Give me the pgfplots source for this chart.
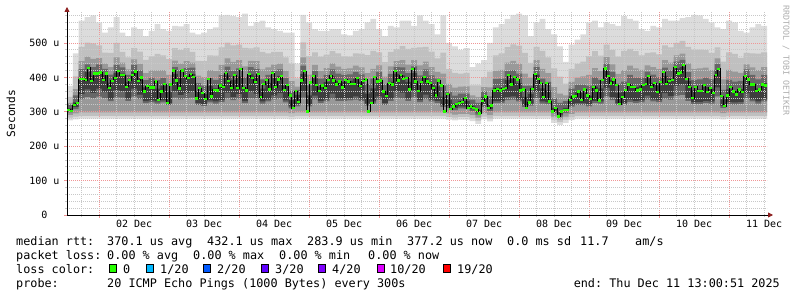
\documentclass[border=0pt]{standalone}
\usepackage{fontspec}
\setmainfont{DejaVu Sans Mono}
\usepackage{pgfplots}
\pgfplotsset{compat=1.18}
\usepackage{pgfplotstable}
\usepgfplotslibrary{fillbetween}
\usetikzlibrary{arrows.meta}
\frenchspacing
\definecolor{lossg}{RGB}{38,255,0}
\definecolor{loss1}{RGB}{0,184,255}
\definecolor{loss2}{RGB}{0,89,255}
\definecolor{loss3}{RGB}{94,0,255}
\definecolor{loss4}{RGB}{126,0,255}
\definecolor{loss10}{RGB}{221,0,255}
\definecolor{loss19}{RGB}{255,0,0}
\definecolor{smA}{RGB}{220,220,220}
\definecolor{smB}{RGB}{192,192,192}
\definecolor{smC}{RGB}{153,153,153}
\definecolor{smD}{RGB}{103,103,103}
\definecolor{smE}{RGB}{62,62,62}
\definecolor{mgrid}{RGB}{240,150,150}
\definecolor{ngrid}{RGB}{200,200,200}
\definecolor{arr}{RGB}{140,30,30}

\pgfplotstableread{
h lo1 lo2 lo3 lo4 lo5 hi5 hi4 hi3 hi2 hi1
0 275 283 291 298 304 310 321 326 343 375
2 278 286 295 308 314 327 348 366 403 470
4 280 288 298 337 351 401 424 447 489 565
6 280 288 298 343 365 415 438 460 501 575
8 280 288 298 339 355 405 430 454 499 580
10 280 288 298 344 367 417 438 456 493 560
12 280 288 298 340 357 407 425 440 472 530
14 280 288 298 331 337 385 408 430 471 545
16 280 288 298 342 363 413 436 458 500 575
18 280 288 298 341 361 411 429 443 474 530
20 280 288 298 332 338 387 407 423 458 520
22 280 288 298 344 367 417 436 452 485 545
24 280 288 298 337 350 400 420 439 475 540
26 280 288 298 325 331 371 392 412 451 520
28 280 288 298 327 333 376 399 420 461 535
30 280 288 298 324 330 367 393 420 468 555
32 280 288 298 327 333 375 398 421 464 540
34 280 288 298 320 326 357 382 407 453 535
36 280 288 298 341 360 410 430 449 485 550
38 280 288 298 336 349 399 420 440 479 548
40 280 288 298 339 355 405 427 447 485 555
42 280 288 298 341 360 410 428 443 474 530
44 280 288 298 320 326 359 383 405 448 525
46 280 288 298 317 323 351 376 401 447 530
48 280 288 298 327 333 375 398 421 464 540
50 280 288 298 324 330 368 393 418 463 545
52 280 288 298 328 334 379 407 436 487 580
54 280 288 298 339 356 406 431 455 501 582
56 280 288 298 334 343 393 419 445 493 578
58 280 288 298 338 352 402 426 450 495 575
60 280 288 298 325 331 371 400 432 486 585
62 280 288 298 340 359 409 430 448 484 550
64 280 288 298 338 353 403 425 447 487 560
66 280 288 298 324 330 367 394 423 474 565
68 280 288 298 330 336 384 407 429 470 545
70 280 288 298 336 348 398 419 437 474 540
72 280 288 298 338 354 404 423 440 474 535
74 280 288 298 327 333 376 398 419 458 530
76 278 286 296 310 316 334 361 389 440 530
78 280 288 298 316 322 349 364 373 397 440
80 280 288 298 341 360 410 434 458 502 582
82 280 288 298 316 322 348 377 408 462 560
84 280 288 298 336 347 397 418 436 473 540
86 280 288 298 326 332 373 396 418 460 535
88 280 288 298 331 337 386 407 427 466 535
90 280 288 298 338 353 403 423 441 476 540
92 280 288 298 332 339 389 411 431 470 540
94 280 288 298 332 338 387 407 425 461 525
96 280 288 298 333 340 390 409 426 460 522
98 280 288 298 335 345 395 415 434 470 535
100 280 288 298 332 338 387 409 429 469 540
102 280 288 298 318 324 353 381 412 465 560
104 280 288 298 324 330 368 396 425 477 570
106 280 288 298 335 345 395 416 435 473 540
108 280 288 298 320 326 357 380 402 444 520
110 280 288 298 332 338 387 410 432 474 550
112 280 288 298 341 360 410 430 447 482 545
114 280 288 298 339 356 406 429 450 491 565
116 280 288 298 332 338 387 412 437 483 565
118 280 288 298 342 362 412 432 450 486 550
120 280 288 298 328 334 378 406 435 487 580
122 280 288 298 337 350 400 423 446 489 565
124 280 288 298 330 336 382 406 430 475 555
126 280 288 298 326 332 374 396 416 455 525
128 280 288 298 314 320 344 376 411 472 580
130 277 285 295 311 317 335 358 381 424 500
132 275 283 292 305 311 324 347 370 413 490
134 277 285 294 310 316 332 353 373 411 480
136 277 285 294 309 315 331 353 374 413 485
138 273 281 290 302 308 318 335 348 377 430
140 265 274 283 292 298 306 326 343 377 440
142 278 286 296 314 320 343 359 372 400 450
144 272 280 290 302 308 320 345 371 417 500
146 280 288 298 325 331 370 395 419 464 545
148 280 288 298 325 331 370 396 422 470 555
150 280 288 298 334 343 393 418 443 488 570
152 280 288 298 335 345 395 421 448 496 582
154 280 288 298 330 336 383 411 440 492 585
156 280 288 298 314 320 343 375 411 471 580
158 280 288 298 318 324 352 376 399 442 520
160 280 288 298 340 358 408 430 450 489 560
162 280 288 298 324 330 368 396 425 477 570
164 280 288 298 322 328 362 387 412 458 540
166 268 277 286 296 302 311 340 372 426 525
168 262 270 278 286 292 299 326 353 402 490
170 268 277 286 296 302 311 331 348 382 445
172 276 284 294 315 321 345 367 387 425 495
174 280 288 298 320 326 357 379 399 439 510
176 280 288 298 319 325 355 379 403 446 525
178 280 288 298 316 322 347 376 407 462 560
180 280 288 298 326 332 373 400 427 476 565
182 280 288 298 324 330 368 393 418 463 545
184 280 288 298 345 370 420 440 459 495 560
186 280 288 298 334 343 393 416 438 480 555
188 280 288 298 319 325 355 382 410 460 550
190 280 288 298 320 326 358 388 421 477 578
192 280 288 298 329 335 381 407 434 483 570
194 280 288 298 326 332 372 399 426 476 565
196 280 288 298 327 333 376 399 422 464 540
198 280 288 298 336 347 397 417 435 471 535
200 280 288 298 330 336 384 408 430 473 550
202 280 288 298 328 334 377 401 424 467 545
204 280 288 298 338 354 404 428 450 493 570
206 280 288 298 335 346 396 420 443 487 565
208 280 288 298 347 376 426 446 464 500 565
210 280 288 298 349 380 430 451 469 506 572
212 280 288 298 332 339 389 415 441 489 575
214 280 288 298 322 328 362 392 425 481 582
216 280 288 298 323 329 365 394 426 481 580
218 280 288 298 326 332 372 399 428 479 570
220 280 288 298 324 330 367 394 421 471 560
222 280 288 298 345 371 421 439 455 487 545
224 278 286 296 311 317 336 364 394 446 540
226 280 288 298 323 329 365 393 422 473 565
228 280 288 298 321 327 360 388 417 468 560
230 280 288 298 323 329 366 390 413 457 535
232 280 288 298 338 354 404 423 438 471 530
234 280 288 298 330 336 384 407 429 470 545
236 280 288 298 324 330 368 394 421 469 555
238 280 288 298 330 336 383 407 430 473 550
240 280 288 298 330 336 383 407 430 473 550
}\smoke

\pgfplotstableread{
h m
0 306
1 303
2 320
3 325
4 395
5 396
6 392
7 428
8 390
9 411
10 411
11 414
12 392
13 411
14 370
15 390
16 399
17 418
18 406
19 406
20 373
21 392
22 407
23 417
24 390
25 400
26 359
27 374
28 371
29 371
30 388
31 335
32 359
33 381
34 325
35 379
36 420
37 391
38 368
39 420
40 403
41 398
42 409
43 401
44 339
45 369
46 354
47 337
48 396
49 344
50 364
51 362
52 376
53 372
54 413
55 389
56 369
57 406
58 369
59 425
60 370
61 362
62 409
63 399
64 386
65 409
66 342
67 381
68 393
69 365
70 413
71 372
72 394
73 403
74 364
75 377
76 347
77 311
78 360
79 328
80 391
81 418
82 301
83 385
84 405
85 378
86 360
87 376
88 369
89 393
90 405
91 391
92 379
93 388
94 371
95 393
96 388
97 381
98 381
99 398
100 375
101 389
102 394
103 301
104 325
105 401
106 388
107 391
108 359
109 345
110 384
111 379
112 418
113 391
114 406
115 396
116 399
117 365
118 425
119 388
120 360
121 386
122 401
123 388
124 384
125 369
126 347
127 391
128 376
129 301
130 352
131 308
132 315
133 323
134 325
135 329
136 340
137 311
138 315
139 311
140 307
141 295
142 332
143 344
144 311
145 318
146 362
147 367
148 362
149 367
150 369
151 406
152 379
153 401
154 394
155 362
156 365
157 311
158 327
159 367
160 409
161 396
162 383
163 342
164 383
165 330
166 301
167 311
168 286
169 301
170 305
171 306
172 335
173 344
174 345
175 359
176 334
177 365
178 347
179 337
180 373
181 362
182 333
183 392
184 426
185 404
186 382
187 394
188 377
189 322
190 343
191 363
192 379
193 372
194 372
195 362
196 365
197 377
198 381
199 403
200 373
201 384
202 357
203 386
204 416
205 381
206 389
207 393
208 430
209 411
210 414
211 435
212 396
213 372
214 340
215 373
216 360
217 360
218 377
219 357
220 370
221 354
222 406
223 425
224 345
225 316
226 347
227 372
228 359
229 350
230 365
231 357
232 403
233 394
234 379
235 379
236 360
237 365
238 379
239 376
240 376
}\med

\newcommand{\lfont}{\fontsize{11.8bp}{14bp}\selectfont}
\newcommand{\tfont}{\fontsize{10bp}{12bp}\selectfont}

\begin{document}
\begin{tikzpicture}
\begin{axis}[
  at={(67bp,82bp)}, anchor=south west,
  scale only axis, width=700bp, height=203bp,
  xmin=0, xmax=240, ymin=0, ymax=590,
  set layers=axis on top, axis on top,
  axis x line=bottom, axis y line=left,
  x axis line style={-{Triangle[length=5bp,width=5bp,color=arr]}, shorten >=-6bp, line width=0.8bp},
  y axis line style={-{Triangle[length=5bp,width=5bp,color=arr]}, shorten >=-5bp, line width=0.8bp},
  xtick={11,35,...,227}, xticklabels={},
  minor xtick={5,11,...,239},
  extra x ticks={23,47,...,239},
  extra x tick labels={02 Dec,03 Dec,04 Dec,05 Dec,06 Dec,07 Dec,08 Dec,09 Dec,10 Dec,11 Dec},
  extra x tick style={grid=none, major tick length=0pt},
  ytick={0,100,...,500},
  yticklabels={0\phantom{0u},100~u,200~u,300~u,400~u,500~u},
  minor ytick={20,40,...,580},
  grid=both,
  major grid style={draw=mgrid, dash pattern=on 1bp off 1bp, line width=0.8bp},
  minor grid style={draw=ngrid, dash pattern=on 1bp off 1bp, line width=0.8bp},
  tick align=outside, major tick length=3bp, minor tick length=2bp,
  major tick style={draw=mgrid, line width=0.8bp},
  minor tick style={draw=ngrid, line width=0.8bp},
  ticklabel style={font=\tfont},
  xticklabel style={yshift=-2bp},
  yticklabel style={xshift=-1bp},
]
\addplot[draw=none, const plot, name path=H1, forget plot] table[x=h,y=hi1]{\smoke};
\addplot[draw=none, const plot, name path=L1, forget plot] table[x=h,y=lo1]{\smoke};
\addplot[fill=smA, draw=none] fill between[of=H1 and L1];
\addplot[draw=none, const plot, name path=H2, forget plot] table[x=h,y=hi2]{\smoke};
\addplot[draw=none, const plot, name path=L2, forget plot] table[x=h,y=lo2]{\smoke};
\addplot[fill=smB, draw=none] fill between[of=H2 and L2];
\addplot[draw=none, const plot, name path=H3, forget plot] table[x=h,y=hi3]{\smoke};
\addplot[draw=none, const plot, name path=L3, forget plot] table[x=h,y=lo3]{\smoke};
\addplot[fill=smC, draw=none] fill between[of=H3 and L3];
\addplot[draw=none, const plot, name path=H4, forget plot] table[x=h,y=hi4]{\smoke};
\addplot[draw=none, const plot, name path=L4, forget plot] table[x=h,y=lo4]{\smoke};
\addplot[fill=smD, draw=none] fill between[of=H4 and L4];
\addplot[draw=none, const plot, name path=H5, forget plot] table[x=h,y=hi5]{\smoke};
\addplot[draw=none, const plot, name path=L5, forget plot] table[x=h,y=lo5]{\smoke};
\addplot[fill=smE, draw=none] fill between[of=H5 and L5];
\addplot[const plot, black, line width=0.7bp, on layer=axis foreground] table[x=h,y=m]{\med};
\addplot[jump mark left, lossg, line width=2.3bp, on layer=axis foreground] table[x=h,y=m]{\med};
\end{axis}
\node[rotate=90, inner sep=0, font=\fontsize{11.2bp}{13bp}\selectfont] at (11bp,183.5bp) {Seconds};
\node[rotate=-90, anchor=west, inner sep=0, text=black!32, font=\fontsize{8.3bp}{10bp}\selectfont] at (786bp,292bp) {RRDTOOL / TOBI OETIKER};
\begin{scope}[every node/.style={anchor=base west, inner sep=0, font=\lfont}]
\node at (16bp,51.5bp) {median rtt:};
\node at (107bp,51.5bp) {370.1 us avg};
\node at (207bp,51.5bp) {432.1 us max};
\node at (307bp,51.5bp) {283.9 us min};
\node at (407bp,51.5bp) {377.2 us now};
\node at (507bp,51.5bp) {0.0 ms sd};
\node at (580bp,51.5bp) {11.7};
\node at (635bp,51.5bp) {am/s};
\node at (16bp,37.5bp) {packet loss:};
\node at (107bp,37.5bp) {0.00 \% avg};
\node at (193bp,37.5bp) {0.00 \% max};
\node at (279bp,37.5bp) {0.00 \% min};
\node at (368bp,37.5bp) {0.00 \% now};
\node at (16bp,23.5bp) {loss color:};
\node at (123bp,23.5bp) {0};
\node at (160bp,23.5bp) {1/20};
\node at (217bp,23.5bp) {2/20};
\node at (275bp,23.5bp) {3/20};
\node at (332bp,23.5bp) {4/20};
\node at (390bp,23.5bp) {10/20};
\node at (457bp,23.5bp) {19/20};
\node at (16bp,9.5bp) {probe:};
\node at (107bp,9.5bp) {20 ICMP Echo Pings (1000 Bytes) every 300s};
\node[anchor=base east] at (780bp,9.5bp) {end: Thu Dec 11 13:00:51 2025};
\end{scope}
\begin{scope}[line width=0.8bp, draw=black]
\filldraw[fill=lossg] (109bp,24.5bp) rectangle ++(7bp,8bp);
\filldraw[fill=loss1] (146bp,24.5bp) rectangle ++(7bp,8bp);
\filldraw[fill=loss2] (203bp,24.5bp) rectangle ++(7bp,8bp);
\filldraw[fill=loss3] (261bp,24.5bp) rectangle ++(7bp,8bp);
\filldraw[fill=loss4] (318bp,24.5bp) rectangle ++(7bp,8bp);
\filldraw[fill=loss10] (377bp,24.5bp) rectangle ++(7bp,8bp);
\filldraw[fill=loss19] (443bp,24.5bp) rectangle ++(7bp,8bp);
\end{scope}
\pgfresetboundingbox
\path[use as bounding box] (0bp,0bp) rectangle (797bp,297bp);
\end{tikzpicture}
\end{document}
